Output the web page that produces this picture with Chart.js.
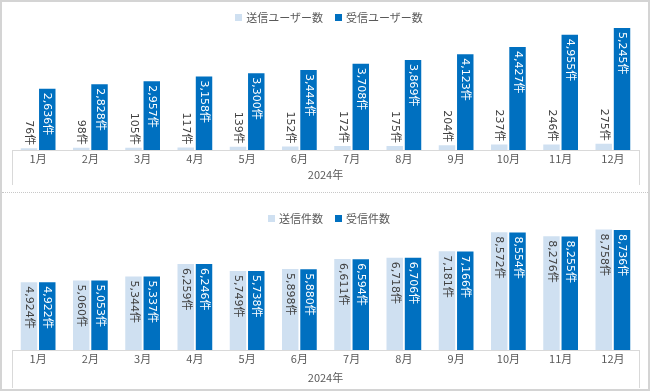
<!DOCTYPE html>
<html>
<head>
<meta charset="utf-8">
<script src="https://cdn.jsdelivr.net/npm/chart.js@4/dist/chart.umd.min.js"></script>
<style>
    body { margin: 0; background: #fff; font-family: "Noto Sans CJK JP", sans-serif; }
    #frame { position: relative; width: 650px; height: 391px; box-sizing: border-box; border: 2px solid #d4d4d4; overflow: hidden; }
    .panel { position: absolute; left: -2px; width: 650px; }
    #topPanel { top: -2px; height: 192px; }
    #bottomPanel { top: 194px; height: 196px; }
    #sep { position: absolute; left: 0; right: 0; top: 190px; border-top: 1px dotted #c8c8c8; }
    .legend { position: absolute; left: 2px; width: 650px; display: flex; justify-content: center; gap: 12px; font-size: 11px; color: #595959; z-index: 2; }
    .legend span { display: flex; align-items: center; }
    .legend i { display: inline-block; width: 7px; height: 7px; margin-right: 4px; }
</style>
</head>
<body>
<div id="frame">
    <div class="panel" id="topPanel"><canvas id="usersChart"></canvas></div>
    <div id="sep"></div>
    <div class="panel" id="bottomPanel"><canvas id="countChart"></canvas></div>
    <div class="legend" style="top: 7px;">
        <span><i style="background:#cfe0f1"></i>送信ユーザー数</span>
        <span><i style="background:#0070c0"></i>受信ユーザー数</span>
    </div>
    <div class="legend" style="top: 208px;">
        <span><i style="background:#cfe0f1"></i>送信件数</span>
        <span><i style="background:#0070c0"></i>受信件数</span>
    </div>
</div>
<script>
const months = ['1月', '2月', '3月', '4月', '5月', '6月', '7月', '8月', '9月', '10月', '11月', '12月'];
const yearLabel = '2024年';

const sentUsers = [76, 98, 105, 117, 139, 152, 172, 175, 204, 237, 246, 275];
const receivedUsers = [2636, 2828, 2957, 3158, 3300, 3444, 3708, 3869, 4123, 4427, 4955, 5245];

const sentCount = [4924, 5060, 5344, 6259, 5749, 5898, 6611, 6718, 7181, 8572, 8276, 8758];
const receivedCount = [4922, 5053, 5337, 6246, 5738, 5880, 6594, 6706, 7166, 8554, 8255, 8736];

const LIGHT = '#cfe0f1';
const DARK = '#0070c0';
const FONT = '"Noto Sans CJK JP", "Noto Sans", sans-serif';
const LABEL_FONT = '"DejaVu Sans", "Noto Sans CJK JP", sans-serif';

// rotated value labels on each bar
const barLabels = {
    id: 'barLabels',
    afterDatasetsDraw(chart, args, opts) {
        const ctx = chart.ctx;
        ctx.save();
        ctx.font = '11px ' + LABEL_FONT;
        ctx.textBaseline = 'middle';
        chart.data.datasets.forEach((ds, i) => {
            const meta = chart.getDatasetMeta(i);
            const inside = opts.inside[i];
            meta.data.forEach((bar, j) => {
                const text = ds.data[j].toLocaleString('en-US') + '件';
                ctx.save();
                ctx.translate(bar.x, inside ? bar.y + 4 : bar.y - 3);
                ctx.rotate(Math.PI / 2);
                ctx.textAlign = inside ? 'left' : 'right';
                ctx.fillStyle = opts.colors[i];
                ctx.fillText(text, 0, 0);
                ctx.restore();
            });
        });
        ctx.restore();
    }
};

// edge lines of the two-level category axis
const axisEdges = {
    id: 'axisEdges',
    afterDraw(chart, args, opts) {
        const ctx = chart.ctx;
        const a = chart.chartArea;
        ctx.save();
        ctx.strokeStyle = '#d9d9d9';
        ctx.lineWidth = 1;
        ctx.beginPath();
        [a.left, a.right].forEach(x => {
            ctx.moveTo(Math.round(x) + 0.5, a.bottom);
            ctx.lineTo(Math.round(x) + 0.5, opts.bottom);
        });
        ctx.stroke();
        ctx.restore();
    }
};

function makeChart(id, sent, received, yMax, pad, titlePad, edgeBottom, insideSent) {
    return new Chart(document.getElementById(id), {
        type: 'bar',
        data: {
            labels: months,
            datasets: [
                { label: 'sent', data: sent, backgroundColor: LIGHT, borderWidth: 0 },
                { label: 'received', data: received, backgroundColor: DARK, borderWidth: 0 }
            ]
        },
        options: {
            responsive: true,
            maintainAspectRatio: false,
            animation: false,
            categoryPercentage: 0.7,
            barPercentage: 0.9,
            layout: { padding: pad },
            scales: {
                y: { display: false, min: 0, max: yMax },
                x: {
                    grid: { display: false, drawTicks: false },
                    border: { display: true, color: '#d9d9d9' },
                    ticks: { color: '#595959', font: { family: FONT, size: 11 }, padding: 2 },
                    title: { display: true, text: yearLabel, color: '#595959', font: { family: FONT, size: 11 }, padding: { top: titlePad, bottom: 0 } }
                }
            },
            plugins: {
                legend: { display: false },
                tooltip: { enabled: false },
                barLabels: { inside: [insideSent, true], colors: ['#404040', '#ffffff'] },
                axisEdges: { bottom: edgeBottom }
            }
        },
        plugins: [barLabels, axisEdges]
    });
}

document.addEventListener('DOMContentLoaded', function() {
    makeChart('usersChart', sentUsers, receivedUsers, 6000,
        { top: 10.5, left: 12, right: 11, bottom: 10.5 }, 1, 185, false);
    makeChart('countChart', sentCount, receivedCount, 10000,
        { top: 16.5, left: 12, right: 11, bottom: 7.6 }, 4, 192, true);
});
</script>
</body>
</html>
